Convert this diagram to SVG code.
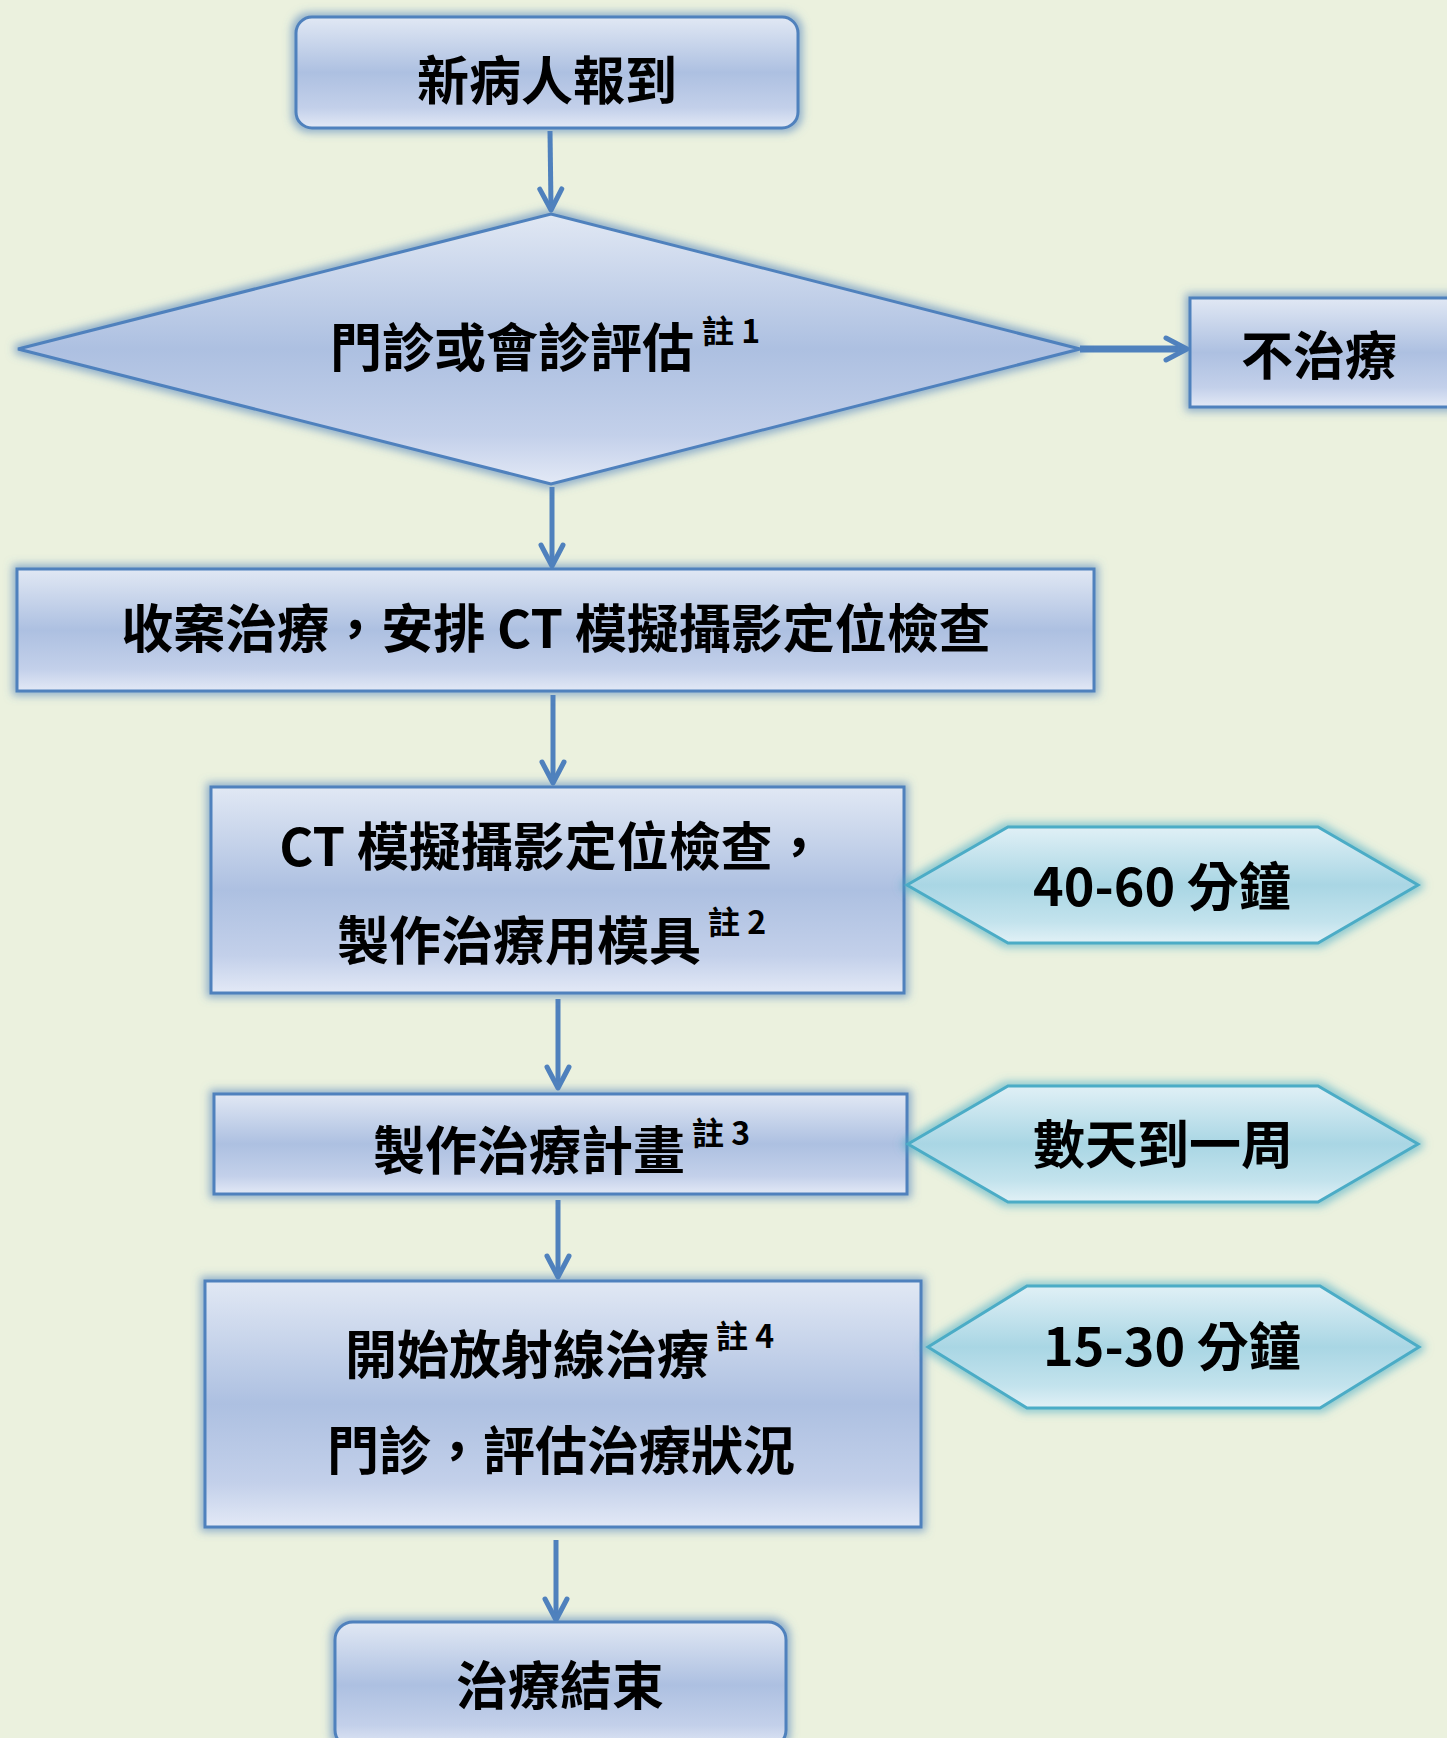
<svg xmlns="http://www.w3.org/2000/svg" width="1447" height="1738" viewBox="0 0 1447 1738">
<style>
.t{font-family:"Noto Sans CJK TC","Noto Sans CJK SC",sans-serif;font-weight:700;font-size:52px;fill:#000}
.s{font-size:32px}
.bx{fill:url(#gBlue);stroke:#4f81bd;stroke-width:3}
.hx{fill:url(#gCyan);stroke:#4bacc6;stroke-width:3}
.cn{fill:none;stroke:#4f81bd;stroke-width:5;marker-end:url(#ah)}
</style>
<defs>
<linearGradient id="gBlue" x1="0" y1="0" x2="0" y2="1">
<stop offset="0" stop-color="#e1e8f4"/>
<stop offset="0.5" stop-color="#adc0e1"/>
<stop offset="0.82" stop-color="#c3d0ea"/>
<stop offset="1" stop-color="#e3e9f6"/>
</linearGradient>
<linearGradient id="gCyan" x1="0" y1="0" x2="0" y2="1">
<stop offset="0" stop-color="#e0f0f6"/>
<stop offset="0.5" stop-color="#a9d6e4"/>
<stop offset="0.82" stop-color="#c3e3ed"/>
<stop offset="1" stop-color="#e2f1f6"/>
</linearGradient>
<filter id="glowB" x="-10%" y="-20%" width="120%" height="140%">
<feMorphology in="SourceAlpha" operator="dilate" radius="3" result="d"/>
<feGaussianBlur in="d" stdDeviation="4" result="b"/>
<feFlood flood-color="#4f81bd" flood-opacity="0.6"/>
<feComposite in2="b" operator="in" result="g"/>
<feMerge><feMergeNode in="g"/><feMergeNode in="SourceGraphic"/></feMerge>
</filter>
<filter id="glowC" x="-10%" y="-20%" width="120%" height="140%">
<feMorphology in="SourceAlpha" operator="dilate" radius="3" result="d"/>
<feGaussianBlur in="d" stdDeviation="4" result="b"/>
<feFlood flood-color="#4bacc6" flood-opacity="0.6"/>
<feComposite in2="b" operator="in" result="g"/>
<feMerge><feMergeNode in="g"/><feMergeNode in="SourceGraphic"/></feMerge>
</filter>
<marker id="ah" markerUnits="userSpaceOnUse" markerWidth="30" markerHeight="30" refX="19" refY="12" orient="auto" overflow="visible">
<path d="M1,1 L22,12 L1,23" fill="none" stroke="#4f81bd" stroke-width="5" stroke-linecap="round" stroke-linejoin="round"/>
</marker>
</defs>
<rect x="0" y="0" width="1447" height="1738" fill="#ebf1de"/>

<g id="connectors">
<path class="cn" d="M550,131 L551,207"/>
<path class="cn" d="M1080,349 L1184,349" style="stroke-width:7"/>
<path class="cn" d="M552,487 L552,563"/>
<path class="cn" d="M553,695 L553,780"/>
<path class="cn" d="M558,999 L558,1085"/>
<path class="cn" d="M558,1200 L558,1274"/>
<path class="cn" d="M556,1540 L556,1617"/>
</g>

<g id="n-start">
<rect class="bx" x="296" y="17" width="502" height="111" rx="16" filter="url(#glowB)"/>
<text class="t" x="547" y="100" text-anchor="middle">新病人報到</text>
</g>

<g id="n-eval">
<polygon class="bx" points="18,349 551,214 1080,349 551,484" filter="url(#glowB)"/>
<text class="t" x="330" y="367">門診或會診評估<tspan class="s" dx="8" dy="-24">註 1</tspan></text>
</g>

<g id="n-notreat">
<rect class="bx" x="1190" y="298" width="290" height="109" filter="url(#glowB)"/>
<text class="t" x="1241" y="375">不治療</text>
</g>

<g id="n-accept">
<rect class="bx" x="17" y="569" width="1077" height="122" filter="url(#glowB)"/>
<text class="t" x="556" y="648" text-anchor="middle">收案治療，安排 CT 模擬攝影定位檢查</text>
</g>

<g id="n-ct">
<rect class="bx" x="211" y="787" width="693" height="206" filter="url(#glowB)"/>
<text class="t" x="552" y="866" text-anchor="middle">CT 模擬攝影定位檢查，</text>
<text class="t" x="337" y="960">製作治療用模具<tspan class="s" dx="7" dy="-26">註 2</tspan></text>
</g>

<g id="n-t1">
<polygon class="hx" points="907,885 1008,827 1318,827 1418,885 1318,943 1008,943" filter="url(#glowC)"/>
<text class="t" x="1162" y="906" text-anchor="middle">40-60 分鐘</text>
</g>

<g id="n-plan">
<rect class="bx" x="214" y="1094" width="693" height="100" filter="url(#glowB)"/>
<text class="t" x="373" y="1170">製作治療計畫<tspan class="s" dx="7" dy="-25">註 3</tspan></text>
</g>

<g id="n-t2">
<polygon class="hx" points="908,1144 1008,1086 1318,1086 1418,1144 1318,1202 1008,1202" filter="url(#glowC)"/>
<text class="t" x="1163" y="1164" text-anchor="middle">數天到一周</text>
</g>

<g id="n-start-rt">
<rect class="bx" x="205" y="1281" width="716" height="246" filter="url(#glowB)"/>
<text class="t" x="345" y="1374">開始放射線治療<tspan class="s" dx="7" dy="-26">註 4</tspan></text>
<text class="t" x="327" y="1470">門診，評估治療狀況</text>
</g>

<g id="n-t3">
<polygon class="hx" points="928,1347 1027,1286 1320,1286 1419,1347 1320,1408 1027,1408" filter="url(#glowC)"/>
<text class="t" x="1172" y="1366" text-anchor="middle">15-30 分鐘</text>
</g>

<g id="n-end">
<rect class="bx" x="335" y="1622" width="451" height="126" rx="18" filter="url(#glowB)"/>
<text class="t" x="560" y="1705" text-anchor="middle">治療結束</text>
</g>
</svg>
